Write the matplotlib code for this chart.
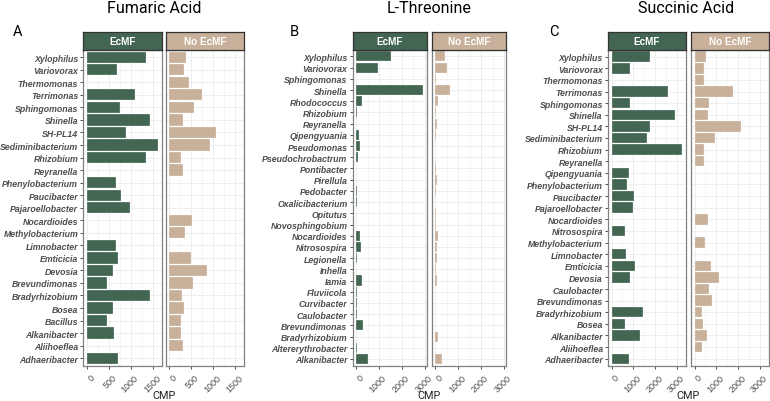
import numpy as np
import matplotlib.pyplot as plt
from matplotlib.ticker import MultipleLocator
from matplotlib.transforms import ScaledTranslation

plt.rcParams['font.family'] = ['Liberation Sans', 'DejaVu Sans']

nan = np.nan

# panel A - Fumaric acid
fa_genus = ['Xylophilus', 'Variovorax', 'Thermomonas', 'Terrimonas', 'Sphingomonas',
            'Shinella', 'SH-PL14', 'Sediminibacterium', 'Rhizobium', 'Reyranella',
            'Phenylobacterium', 'Paucibacter', 'Pajaroellobacter', 'Nocardioides',
            'Methylobacterium', 'Limnobacter', 'Emticicia', 'Devosia', 'Brevundimonas',
            'Bradyrhizobium', 'Bosea', 'Bacillus', 'Alkanibacter', 'Aliihoeflea',
            'Adhaeribacter']
fa_ecmf = [1350, 680, nan, 1090, 760, 1440, 890, 1615, 1350, nan, 665, 775, 980, nan,
           nan, 650, 700, 590, 450, 1430, 590, 450, 605, nan, 700]
fa_noecmf = [390, 330, 440, 745, 560, 315, 1055, 920, 275, 305, nan, nan, nan, 515,
             350, nan, 490, 860, 530, 290, 335, 260, 275, 320, nan]

# panel B - L-Threonine
tn_genus = ['Xylophilus', 'Variovorax', 'Sphingomonas', 'Shinella', 'Rhodococcus',
            'Rhizobium', 'Reyranella', 'Qipengyuania', 'Pseudomonas', 'Pseudochrobactrum',
            'Pontibacter', 'Pirellula', 'Pedobacter', 'Oxalicibacterium', 'Opitutus',
            'Novosphingobium', 'Nocardioides', 'Nitrosospira', 'Legionella', 'Inhella',
            'Iamia', 'Fluviicola', 'Curvibacter', 'Caulobacter', 'Brevundimonas',
            'Bradyrhizobium', 'Altererythrobacter', 'Alkanibacter']
tn_ecmf = [1520, 960, nan, 2940, 245, 55, nan, 130, 175, 70, nan, nan, 55, 30, nan,
           nan, 175, 205, 55, nan, 260, 30, 55, 55, 290, nan, 30, 520]
tn_noecmf = [450, 505, 30, 640, 130, 45, 70, 45, nan, nan, 45, 70, 45, nan, 45,
             30, 145, 70, 70, 45, 85, nan, nan, nan, nan, 145, nan, 290]

# panel C - Succinic acid
sa_genus = ['Xylophilus', 'Variovorax', 'Thermomonas', 'Terrimonas', 'Sphingomonas',
            'Shinella', 'SH-PL14', 'Sediminibacterium', 'Rhizobium', 'Reyranella',
            'Qipengyuania', 'Phenylobacterium', 'Paucibacter', 'Pajaroellobacter',
            'Nocardioides', 'Nitrosospira', 'Methylobacterium', 'Limnobacter', 'Emticicia',
            'Devosia', 'Caulobacter', 'Brevundimonas', 'Bradyrhizobium', 'Bosea',
            'Alkanibacter', 'Aliihoeflea', 'Adhaeribacter']
sa_ecmf = [1755, 865, nan, 2590, 865, 2910, 1755, 1635, 3225, nan, 790, 725, 1015, 985,
           nan, 620, nan, 650, 1060, 865, nan, nan, 1440, 620, 1320, nan, 775]
sa_noecmf = [515, 425, 455, 1740, 665, 635, 2105, 925, 425, 425, nan, nan, nan, nan,
             635, nan, 470, nan, 740, 1135, 665, 790, 350, 380, 560, 320, nan]

facets = ['EcMF', 'No EcMF']
green = '#436652'
tan = '#c8b09b'

W, H = 770, 402
fig = plt.figure(figsize=(W / 100, H / 100), dpi=100)
shift = ScaledTranslation(3 / 100, 0, fig.dpi_scale_trans)


def px(x0, y0, x1, y1):
    # pixel box -> figure fraction
    return [x0 / W, 1 - y1 / H, (x1 - x0) / W, (y1 - y0) / H]


def draw_panel(genus, ecmf, noecmf, xs, step, title, title_x, letter, letter_x):
    n = len(genus)
    y = np.arange(n)[::-1]
    series = [np.array(ecmf, float), np.array(noecmf, float)]
    M = np.nanmax(np.concatenate(series))
    for k, vals in enumerate(series):
        x0, x1 = xs[k]
        col = [green, tan][k]
        ax = fig.add_axes(px(x0, 50.7, x1, 366.7))
        ok = ~np.isnan(vals)
        ax.barh(y[ok], vals[ok], height=0.9, color=col, edgecolor='#ffffffaa',
                linewidth=0.3, zorder=2)
        ax.set_xlim(-0.05 * M, 1.05 * M)
        ax.set_ylim(-0.6, n - 0.4)
        ax.xaxis.set_major_locator(MultipleLocator(step))
        ax.xaxis.set_minor_locator(MultipleLocator(step / 2))
        ax.set_yticks(y)
        ax.set_axisbelow(True)
        ax.grid(which='major', color='#ebebeb', lw=0.6)
        ax.grid(which='minor', axis='x', color='#f2f2f2', lw=0.4)
        ax.tick_params(which='minor', length=0)
        ax.tick_params(which='major', length=2.5, width=0.6, color='#333333',
                       labelcolor='#4d4d4d', pad=1.2)
        ax.tick_params(axis='x', pad=2.5)
        if k == 0:
            ax.set_yticklabels(genus, fontsize=6.3, fontweight='bold', fontstyle='italic')
        else:
            ax.set_yticklabels([])
            ax.tick_params(axis='y', length=0)
        ax.set_xticks([t for t in ax.get_xticks() if 0 <= t <= M * 1.05])
        for lab in ax.get_xticklabels():
            lab.set_rotation(45)
            lab.set_ha('right')
            lab.set_va('top')
            lab.set_rotation_mode('anchor')
            lab.set_fontsize(6.5)
            lab.set_transform(lab.get_transform() + shift)
        for s in ax.spines.values():
            s.set_color('#808080')
            s.set_linewidth(0.9)

        # facet strip
        st = fig.add_axes(px(x0, 32.5, x1, 50.7))
        st.set_facecolor(col)
        st.set_xticks([])
        st.set_yticks([])
        for s in st.spines.values():
            s.set_color('#333333')
            s.set_linewidth(0.9)
        st.text(0.5, 0.5, facets[k], color='white', fontsize=7.2, fontweight='bold',
                ha='center', va='center', transform=st.transAxes)

    mid = (xs[0][0] + xs[1][1]) / 2
    fig.text(mid / W, 1 - 396 / H, 'CMP', fontsize=7.8, ha='center', va='center',
             family=['Roboto', 'DejaVu Sans'], color='#222222')
    fig.text(title_x / W, 1 - 8.5 / H, title, fontsize=11.5, ha='center', va='center',
             family=['Roboto', 'DejaVu Sans'])
    fig.text(letter_x / W, 1 - 32.5 / H, letter, fontsize=10.5, ha='center', va='center',
             family=['Roboto', 'DejaVu Sans'])


draw_panel(fa_genus, fa_ecmf, fa_noecmf, [(83.3, 161.7), (165.7, 244)], 500,
           'Fumaric Acid', 154, 'A', 17.5)
draw_panel(tn_genus, tn_ecmf, tn_noecmf, [(352.7, 426.7), (431.7, 506)], 1000,
           'L-Threonine', 429, 'B', 294)
draw_panel(sa_genus, sa_ecmf, sa_noecmf, [(608, 685.7), (691, 768.7)], 1000,
           'Succinic Acid', 686, 'C', 554)

plt.savefig('out.png', dpi=100)
